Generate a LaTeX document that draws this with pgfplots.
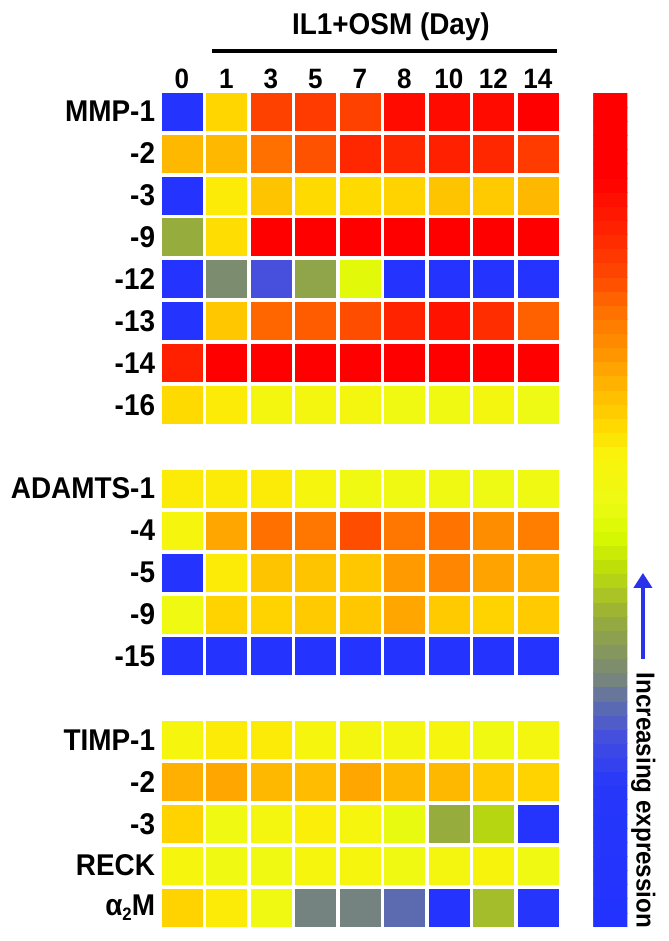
\documentclass[border=0pt]{standalone}
\usepackage{pgfplots}
\pgfplotsset{compat=1.18}
\usepackage{pgfplotstable}
\usepackage{fontspec}
\setmainfont{Liberation Sans}[FakeStretch=0.93]
\usetikzlibrary{arrows.meta}
\definecolor{arrowblue}{RGB}{40,50,235}

\pgfplotstableread{
x y c
0 0 0.05
1 0 0.605
2 0 0.79
3 0 0.80
4 0 0.79
5 0 0.88
6 0 0.88
7 0 0.88
8 0 0.90
0 1 0.645
1 1 0.645
2 1 0.74
3 1 0.77
4 1 0.83
5 1 0.83
6 1 0.84
7 1 0.83
8 1 0.80
0 2 0.05
1 2 0.58
2 2 0.63
3 2 0.60
4 2 0.60
5 2 0.61
6 2 0.63
7 2 0.62
8 2 0.645
0 3 0.37
1 3 0.595
2 3 0.90
3 3 0.90
4 3 0.90
5 3 0.90
6 3 0.90
7 3 0.90
8 3 0.90
0 4 0.05
1 4 0.31
2 4 0.23
3 4 0.355
4 4 0.49
5 4 0.05
6 4 0.05
7 4 0.05
8 4 0.05
0 5 0.05
1 5 0.625
2 5 0.75
3 5 0.76
4 5 0.775
5 5 0.835
6 5 0.865
7 5 0.82
8 5 0.755
0 6 0.84
1 6 0.90
2 6 0.90
3 6 0.90
4 6 0.90
5 6 0.90
6 6 0.90
7 6 0.90
8 6 0.90
0 7 0.60
1 7 0.58
2 7 0.54
3 7 0.54
4 7 0.54
5 7 0.52
6 7 0.52
7 7 0.54
8 7 0.51
}\mmp

\pgfplotstableread{
x y c
0 9 0.58
1 9 0.58
2 9 0.58
3 9 0.55
4 9 0.52
5 9 0.52
6 9 0.52
7 9 0.51
8 9 0.52
0 10 0.55
1 10 0.665
2 10 0.74
3 10 0.73
4 10 0.775
5 10 0.73
6 10 0.735
7 10 0.70
8 10 0.72
0 11 0.05
1 11 0.58
2 11 0.63
3 11 0.63
4 11 0.625
5 11 0.68
6 11 0.71
7 11 0.67
8 11 0.655
0 12 0.52
1 12 0.61
2 12 0.61
3 12 0.62
4 12 0.625
5 12 0.665
6 12 0.62
7 12 0.61
8 12 0.62
0 13 0.05
1 13 0.05
2 13 0.05
3 13 0.05
4 13 0.05
5 13 0.05
6 13 0.05
7 13 0.05
8 13 0.05
}\adamts

\pgfplotstableread{
x y c
0 15 0.55
1 15 0.58
2 15 0.58
3 15 0.55
4 15 0.54
5 15 0.54
6 15 0.55
7 15 0.52
8 15 0.54
0 16 0.655
1 16 0.665
2 16 0.645
3 16 0.64
4 16 0.665
5 16 0.645
6 16 0.645
7 16 0.62
8 16 0.61
0 17 0.61
1 17 0.52
2 17 0.54
3 17 0.575
4 17 0.55
5 17 0.50
6 17 0.37
7 17 0.42
8 17 0.08
0 18 0.55
1 18 0.52
2 18 0.52
3 18 0.55
4 18 0.55
5 18 0.52
6 18 0.54
7 18 0.56
8 18 0.52
0 19 0.61
1 19 0.58
2 19 0.52
3 19 0.295
4 19 0.295
5 19 0.265
6 19 0.05
7 19 0.39
8 19 0.09
}\timp

\begin{document}
\begin{tikzpicture}
\begin{axis}[
  scale only axis,
  width=400.5pt, height=838pt,
  xmin=-0.5, xmax=8.5, ymin=-0.5, ymax=19.5,
  y dir=reverse,
  clip=false,
  axis line style={draw=none},
  tick style={draw=none},
  xtick={0,...,8},
  xticklabels={0,1,3,5,7,8,10,12,14},
  xticklabel pos=upper,
  xticklabel style={anchor=base, inner sep=0pt, yshift=2.5pt, font=\fontsize{28}{30}\selectfont\bfseries},
  ytick={0,1,2,3,4,5,6,7,9,10,11,12,13,15,16,17,18,19},
  yticklabels={MMP-1,-2,-3,-9,-12,-13,-14,-16,ADAMTS-1,-4,-5,-9,-15,TIMP-1,-2,-3,RECK,{α\raisebox{-0.35ex}{\fontsize{18}{18}\selectfont 2}M}},
  yticklabel style={anchor=east, inner sep=0pt, xshift=-4.5pt, font=\fontsize{30}{32}\selectfont\bfseries},
  colormap={expr}{
    rgb255(0cm)=(35,50,255)
    rgb255(34cm)=(38,55,250)
    rgb255(46cm)=(70,80,220)
    rgb255(54cm)=(95,110,170)
    rgb255(60cm)=(120,135,120)
    rgb255(74cm)=(150,172,60)
    rgb255(86cm)=(190,222,10)
    rgb255(94cm)=(215,250,0)
    rgb255(102cm)=(238,250,20)
    rgb255(114cm)=(250,242,10)
    rgb255(120cm)=(255,218,0)
    rgb255(127cm)=(255,192,0)
    rgb255(136cm)=(255,155,0)
    rgb255(148cm)=(255,112,0)
    rgb255(156cm)=(255,72,0)
    rgb255(168cm)=(255,32,0)
    rgb255(180cm)=(255,0,0)
    rgb255(200cm)=(255,0,0)
  },
  point meta min=0, point meta max=1,
  colorbar sampled,
  colorbar style={
    samples=60,
    width=34pt, height=834pt,
    at={(parent axis.north east)}, anchor=north west,
    xshift=24.75pt, yshift=-2.45pt,
    ytick=\empty, xtick=\empty,
    axis line style={draw=none},
  },
]
\addplot[scatter, only marks, mark=square*, mark size=20pt,
  mark options={yscale=0.925},
  scatter/use mapped color={draw=mapped color, fill=mapped color},
  point meta=explicit] table[x=x, y=y, meta=c] {\mmp};
\addplot[scatter, only marks, mark=square*, mark size=20pt,
  mark options={yscale=0.925},
  scatter/use mapped color={draw=mapped color, fill=mapped color},
  point meta=explicit] table[x=x, y=y, meta=c] {\adamts};
\addplot[scatter, only marks, mark=square*, mark size=20pt,
  mark options={yscale=0.925},
  scatter/use mapped color={draw=mapped color, fill=mapped color},
  point meta=explicit] table[x=x, y=y, meta=c] {\timp};

\node[anchor=base, font=\fontsize{30}{32}\selectfont\bfseries] at (axis cs:4.697,-1.826) {IL1+OSM (Day)};
\draw[line width=4pt] (axis cs:0.674,-1.444) -- (axis cs:8.427,-1.444);
\draw[arrowblue, line width=4pt, -{Triangle[length=15pt,width=18pt]}] (axis cs:10.36,13.067) -- (axis cs:10.36,11.014);
\node[rotate=-90, anchor=base, font=\fontsize{26}{28}\selectfont\bfseries] at (axis cs:10.216,16.444) {Increasing expression};
\path (axis cs:-4.09,-2.661) rectangle (axis cs:10.944,19.80);
\end{axis}
\end{tikzpicture}
\end{document}
